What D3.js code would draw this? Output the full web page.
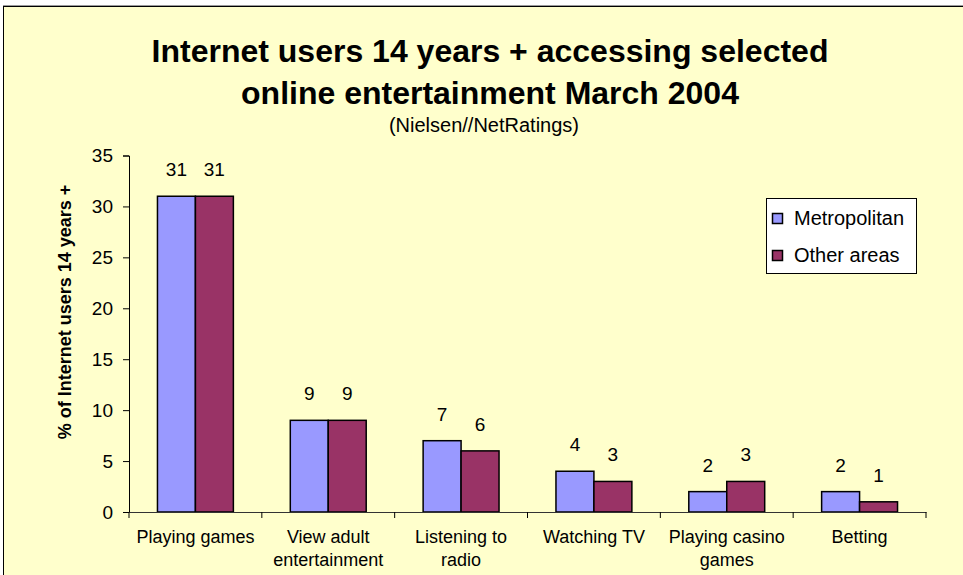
<!DOCTYPE html>
<html>
<head>
<meta charset="utf-8">
<script src="https://cdn.jsdelivr.net/npm/d3@7"></script>
<style>
  html, body { margin: 0; padding: 0; background: #ffffff; }
  svg { display: block; font-family: "Liberation Sans", Arial, sans-serif; }
</style>
</head>
<body>
<svg id="chart" width="963" height="575"></svg>
<script>
// Online entertainment accessed by Internet users aged 14+, March 2004
const categories = [
  "Playing games",
  "View adult\nentertainment",
  "Listening to\nradio",
  "Watching TV",
  "Playing casino\ngames",
  "Betting"
];
const seriesNames = ["Metropolitan", "Other areas"];
const metropolitan = [31, 9, 7, 4, 2, 2];
const otherAreas = [31, 9, 6, 3, 3, 1];
const yTicks = [0, 5, 10, 15, 20, 25, 30, 35];
const seriesColors = ["#9999ff", "#993366"];

const titleLines = [
  "Internet users 14 years + accessing selected",
  "online entertainment March 2004"
];
const subtitle = "(Nielsen//NetRatings)";
const yTitle = "% of Internet users 14 years +";

const svg = d3.select("#chart");
const W = 963, H = 575;

// chart area panel
svg.append("rect")
  .attr("x", 3.5).attr("y", 6.5)
  .attr("width", W + 10).attr("height", H + 10)
  .attr("fill", "#ffffcc")
  .attr("stroke", "#000").attr("stroke-width", 1);
svg.append("line")
  .attr("x1", 3).attr("x2", W).attr("y1", 5.5).attr("y2", 5.5)
  .attr("stroke", "#9a9a9a").attr("stroke-width", 1);

const plot = { left: 129, right: 926, top: 155.5, bottom: 512 };

const x0 = d3.scaleBand()
  .domain(categories)
  .range([plot.left, plot.right])
  .paddingInner(0).paddingOuter(0);

// gap width 150% of a bar: two bars + 1.5 bar widths per category
const barW = x0.bandwidth() / 3.5;
const x1 = d3.scaleBand()
  .domain(seriesNames)
  .range([0, barW * 2])
  .padding(0);

const y = d3.scaleLinear().domain([0, 35]).range([plot.bottom, plot.top]);

// titles
const title = svg.append("text")
  .attr("text-anchor", "middle")
  .attr("font-weight", "bold")
  .attr("font-size", 32)
  .attr("fill", "#000");
titleLines.forEach((t, i) => {
  title.append("tspan").attr("x", 490).attr("y", 62 + i * 42).text(t);
});
svg.append("text")
  .attr("x", 484).attr("y", 132)
  .attr("text-anchor", "middle")
  .attr("font-size", 20)
  .attr("fill", "#000")
  .text(subtitle);

// bars
const series = [metropolitan, otherAreas];
const groups = svg.append("g").selectAll("g")
  .data(categories)
  .join("g")
  .attr("transform", d => `translate(${x0(d) + (x0.bandwidth() - barW * 2) / 2},0)`);

groups.selectAll("rect")
  .data((d, i) => seriesNames.map((s, k) => ({ s, v: series[k][i], k })))
  .join("rect")
  .attr("x", d => x1(d.s))
  .attr("y", d => y(d.v))
  .attr("width", x1.bandwidth())
  .attr("height", d => y(0) - y(d.v))
  .attr("fill", d => seriesColors[d.k])
  .attr("stroke", "#000")
  .attr("stroke-width", 1.5);

groups.selectAll("text.val")
  .data((d, i) => seriesNames.map((s, k) => ({ s, v: series[k][i], k })))
  .join("text")
  .attr("class", "val")
  .attr("x", d => x1(d.s) + x1.bandwidth() / 2)
  .attr("y", d => y(d.v) - 20)
  .attr("text-anchor", "middle")
  .attr("font-size", 19)
  .attr("fill", "#000")
  .text(d => d.v);

// y axis
const yAxis = svg.append("g")
  .attr("transform", `translate(${plot.left},0)`)
  .call(d3.axisLeft(y).tickValues(yTicks).tickSize(6).tickPadding(10));
yAxis.select(".domain").attr("stroke", "#000");
yAxis.selectAll(".tick line").attr("stroke", "#000");
yAxis.selectAll(".tick text")
  .attr("font-size", 19)
  .attr("font-family", "Liberation Sans, Arial, sans-serif")
  .attr("fill", "#000");

// x axis
const xAxis = svg.append("g")
  .attr("transform", `translate(0,${plot.bottom})`)
  .call(d3.axisBottom(x0).tickSize(0).tickFormat(""));
xAxis.select(".domain").attr("stroke", "#333");
xAxis.selectAll(".tick").remove();
// category separators
const edges = categories.map(c => x0(c)).concat([plot.right]);
svg.append("g").selectAll("line")
  .data(edges)
  .join("line")
  .attr("x1", d => d).attr("x2", d => d)
  .attr("y1", plot.bottom).attr("y2", plot.bottom + 6)
  .attr("stroke", "#000");

// category labels
svg.append("g").selectAll("text")
  .data(categories)
  .join("text")
  .attr("text-anchor", "middle")
  .attr("font-size", 18)
  .attr("fill", "#000")
  .each(function (d) {
    const cx = x0(d) + x0.bandwidth() / 2;
    d.split("\n").forEach((line, i) => {
      d3.select(this).append("tspan")
        .attr("x", cx).attr("y", 543 + i * 23)
        .text(line);
    });
  });

// y axis title
svg.append("text")
  .attr("transform", "translate(71,312) rotate(-90)")
  .attr("text-anchor", "middle")
  .attr("font-weight", "bold")
  .attr("font-size", 18)
  .attr("fill", "#000")
  .text(yTitle);

// legend
const legend = svg.append("g").attr("transform", "translate(766,198)");
legend.append("rect")
  .attr("x", 0.5).attr("y", 0.5)
  .attr("width", 150).attr("height", 75)
  .attr("fill", "#fff")
  .attr("stroke", "#000");
seriesNames.forEach((s, k) => {
  const ry = 15 + k * 37;
  legend.append("rect")
    .attr("x", 6.5).attr("y", ry + 0.5)
    .attr("width", 10).attr("height", 10)
    .attr("fill", seriesColors[k])
    .attr("stroke", "#000").attr("stroke-width", 1.5);
  legend.append("text")
    .attr("x", 28).attr("y", ry + 12)
    .attr("font-size", 20)
    .attr("fill", "#000")
    .text(s);
});
</script>
</body>
</html>
